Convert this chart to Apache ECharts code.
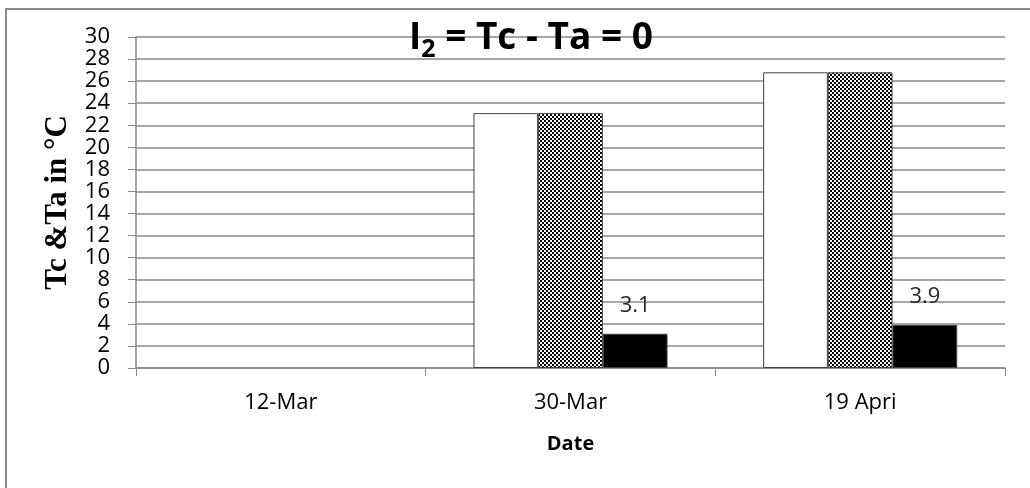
<!DOCTYPE html>
<html>
<head>
<meta charset="utf-8">
<script src="https://cdn.jsdelivr.net/npm/echarts@6/dist/echarts.min.js"></script>
<style>
  html, body { margin: 0; padding: 0; background: #fff; }
  #main { width: 1030px; height: 488px; }
</style>
</head>
<body>
<div id="main"></div>
<script>
// data
var dates = ['12-Mar', '30-Mar', '19 Apri'];
var tcValues = [null, 23.1, 26.8];
var taValues = [null, 23.1, 26.8];
var blackValues = [null, 3.1, 3.9];

var txtFont = 'Open Sans';
var grey = '#898989';

// checker pattern for the second bar
var pat = document.createElement('canvas');
pat.width = 4;
pat.height = 4;
var ctx = pat.getContext('2d');
ctx.fillStyle = '#fff';
ctx.fillRect(0, 0, 4, 4);
ctx.fillStyle = '#000';
ctx.fillRect(0, 0, 2, 2);
ctx.fillRect(2, 2, 2, 2);

var myChart = echarts.init(document.getElementById('main'));

var option = {
  animation: false,
  backgroundColor: '#fff',
  title: {
    text: '{b|I}{s|2}{b| = Tc - Ta = 0}',
    left: 404,
    top: 10,
    textStyle: {
      rich: {
        b: { fontFamily: txtFont, fontWeight: 'bold', fontSize: 37, color: '#000', lineHeight: 46 },
        s: { fontFamily: txtFont, fontWeight: 'bold', fontSize: 25, color: '#000', lineHeight: 46, padding: [23, 0, 0, 0] }
      }
    }
  },
  graphic: [{
    type: 'rect',
    shape: { x: 6, y: 9, width: 1100, height: 600 },
    style: { fill: 'none', stroke: grey, lineWidth: 2 },
    silent: true
  }],
  grid: { left: 136, right: 25, top: 37, bottom: 120 },
  xAxis: {
    type: 'category',
    data: dates,
    name: 'Date',
    nameLocation: 'middle',
    nameGap: 66,
    nameTextStyle: { fontFamily: txtFont, fontWeight: 'bold', fontSize: 20, color: '#000' },
    axisLine: { lineStyle: { color: grey, width: 1.5 } },
    axisTick: { show: true, length: 8, lineStyle: { color: grey } },
    axisLabel: { margin: 24, fontFamily: txtFont, fontSize: 22, color: '#000' }
  },
  yAxis: {
    type: 'value',
    min: 0,
    max: 30,
    interval: 2,
    name: 'Tc &Ta in °C',
    nameLocation: 'middle',
    nameGap: 62,
    nameTextStyle: { fontFamily: 'Liberation Serif', fontWeight: 'bold', fontSize: 31, color: '#000' },
    axisLine: { show: true, lineStyle: { color: grey, width: 1.5 } },
    axisTick: { show: true, length: 8, lineStyle: { color: grey } },
    splitLine: { lineStyle: { color: grey, width: 1.5 } },
    axisLabel: { margin: 26, fontFamily: txtFont, fontSize: 22, color: '#000', lineHeight: 20 }
  },
  series: [
    {
      name: 'Tc',
      type: 'bar',
      data: tcValues,
      barGap: 0,
      barCategoryGap: '33%',
      itemStyle: { color: '#fff', borderColor: '#404040', borderWidth: 1 }
    },
    {
      name: 'Ta',
      type: 'bar',
      data: taValues,
      itemStyle: { color: { image: pat, repeat: 'repeat' }, borderColor: '#404040', borderWidth: 1 }
    },
    {
      name: 'Diff',
      type: 'bar',
      data: blackValues,
      itemStyle: { color: '#000', borderColor: '#404040', borderWidth: 1 },
      label: {
        show: true,
        position: 'top',
        distance: 17,
        fontFamily: txtFont,
        fontSize: 22,
        color: '#262626'
      }
    }
  ]
};

myChart.setOption(option);
</script>
</body>
</html>
